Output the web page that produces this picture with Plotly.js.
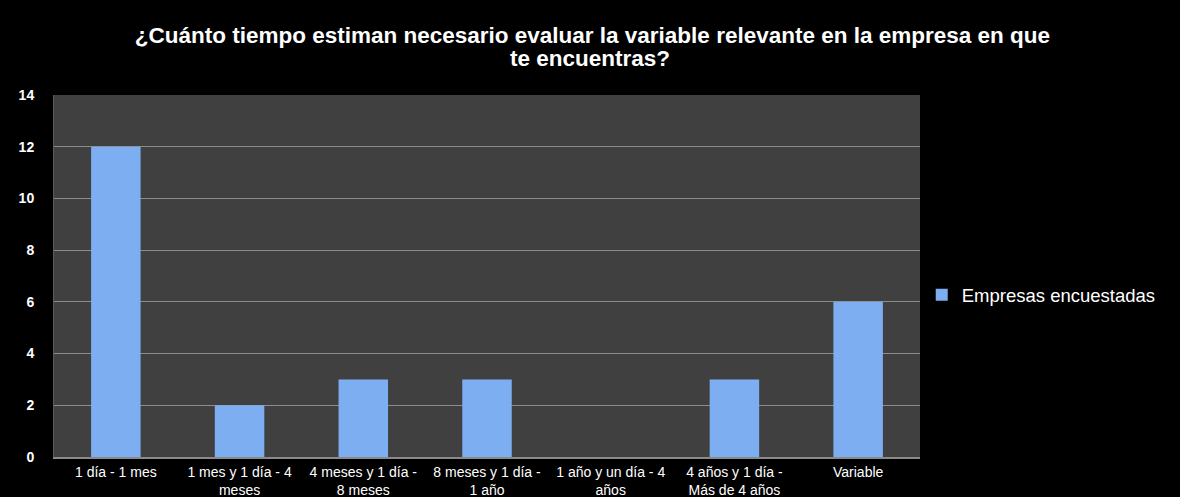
<!DOCTYPE html>
<html>
<head>
<meta charset="utf-8">
<script src="https://cdn.plot.ly/plotly-3.0.1.min.js"></script>
<style>html,body{margin:0;padding:0;background:#000;}#chart{width:1180px;height:497px;}</style>
</head>
<body>
<div id="chart"></div>
<script>
const categories = [
  "1 día - 1 mes",
  "1 mes y 1 día - 4<br>meses",
  "4 meses y 1 día -<br>8 meses",
  "8 meses y 1 día -<br>1 año",
  "1 año y un día - 4<br>años",
  "4 años y 1 día -<br>Más de 4 años",
  "Variable"
];
const seriesName = "Empresas encuestadas";
const values = [12, 2, 3, 3, 0, 3, 6];
const yTicks = [0, 2, 4, 6, 8, 10, 12, 14];
const titleLine1 = "¿Cuánto tiempo estiman necesario evaluar la variable relevante en la empresa en que";
const titleLine2 = "te encuentras?";

const trace = {
  type: 'bar',
  x: categories,
  y: values,
  name: seriesName,
  showlegend: true,
  marker: {color: '#7eaef2', line: {width: 0}},
  hoverinfo: 'x+y'
};

const titleFont = {family: 'Liberation Sans, Arial, sans-serif', size: 22.5, color: '#ffffff'};

const layout = {
  width: 1180, height: 497,
  paper_bgcolor: '#000000',
  plot_bgcolor: '#404040',
  margin: {l: 54, r: 260, t: 95, b: 40},
  title: {
    text: '<b>' + titleLine1 + '</b>',
    font: titleFont,
    x: 0.502, xanchor: 'center', y: 0.929, yanchor: 'middle'
  },
  annotations: [{
    text: '<b>' + titleLine2 + '</b>',
    font: titleFont,
    xref: 'paper', yref: 'paper',
    x: (590 - 54) / 866, y: (457 - 58) / 362,
    xanchor: 'center', yanchor: 'middle',
    showarrow: false
  }],
  bargap: 0.6,
  xaxis: {
    type: 'category',
    tickfont: {family: 'Liberation Sans, Arial, sans-serif', size: 14, color: '#ffffff'},
    showgrid: false,
    showline: true, linecolor: '#8a8a8a', linewidth: 2,
    ticks: '', ticklabelstandoff: 1,
    fixedrange: true
  },
  yaxis: {
    range: [0, 14],
    tickvals: yTicks,
    ticktext: yTicks.map(String),
    tickfont: {family: 'Liberation Sans, Arial, sans-serif', size: 14, color: '#ffffff', weight: 'bold'},
    showgrid: true, gridcolor: '#8c8c8c', gridwidth: 1,
    zeroline: false,
    showline: true, linecolor: '#5a5a5a', linewidth: 1,
    ticks: '', ticklabelstandoff: 16,
    fixedrange: true
  },
  legend: {
    x: 1.002, xanchor: 'left', y: 0.447, yanchor: 'middle',
    font: {family: 'Liberation Sans, Arial, sans-serif', size: 18.5, color: '#ffffff'},
    bgcolor: 'rgba(0,0,0,0)',
    itemwidth: 30
  },
  showlegend: true
};

Plotly.newPlot('chart', [trace], layout, {displayModeBar: false, staticPlot: true});
</script>
</body>
</html>
